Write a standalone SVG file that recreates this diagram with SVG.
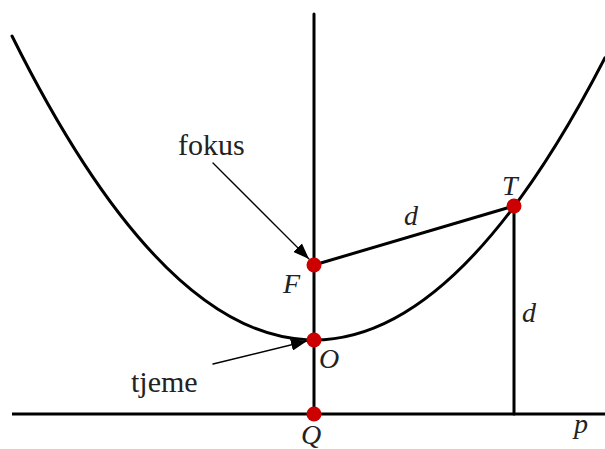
<svg xmlns="http://www.w3.org/2000/svg" width="605" height="449" viewBox="0 0 605 449">
<defs>
<marker id="ahb" viewBox="0 0 16 12" refX="16" refY="6" markerWidth="16" markerHeight="12" markerUnits="userSpaceOnUse" orient="auto">
<path d="M0,0 L16,6 L0,12 z" fill="#000"/>
</marker>
</defs>
<g id="connectors" fill="none" stroke="#000" stroke-width="3" stroke-linecap="round">
<path id="parabola" d="M12,36 Q308.5,632.9 605,57.7"/>
<line id="axis" x1="314" y1="14" x2="314" y2="414"/>
<line id="directrix" x1="12" y1="414" x2="605" y2="414" stroke-linecap="butt"/>
<line id="FT" x1="314" y1="265" x2="514" y2="206"/>
<line id="TP" x1="514" y1="206" x2="514" y2="414"/>
<line id="fokus-arrow" stroke-width="1.3" x1="213" y1="163" x2="309" y2="259" marker-end="url(#ahb)"/>
<line id="tjeme-arrow" stroke-width="1.3" x1="213" y1="364" x2="307" y2="341" marker-end="url(#ahb)"/>
</g>
<g id="F"><circle fill="#cc0000" cx="314" cy="265" r="7.5"/><text x="283" y="293" font-family="Liberation Serif" font-style="italic" font-size="28" fill="#222">F</text></g>
<g id="O"><circle fill="#cc0000" cx="314" cy="340" r="7.5"/><text x="319" y="368" font-family="Liberation Serif" font-style="italic" font-size="28" fill="#222">O</text></g>
<g id="Q"><circle fill="#cc0000" cx="314" cy="414" r="7.5"/><text x="301" y="444" font-family="Liberation Serif" font-style="italic" font-size="28" fill="#222">Q</text></g>
<g id="T"><circle fill="#cc0000" cx="514" cy="206" r="7.5"/><text x="502" y="195" font-family="Liberation Serif" font-style="italic" font-size="28" fill="#222">T</text></g>
<g id="labels">
<text x="404" y="225" font-family="Liberation Serif" font-style="italic" font-size="28" fill="#222">d</text>
<text x="522" y="322" font-family="Liberation Serif" font-style="italic" font-size="28" fill="#222">d</text>
<text x="574" y="433" font-family="Liberation Serif" font-style="italic" font-size="28" fill="#222">p</text>
<text x="178" y="155" font-family="Liberation Serif" font-size="30" fill="#222">fokus</text>
<text x="131" y="392" font-family="Liberation Serif" font-size="30" fill="#222">tjeme</text>
</g>
</svg>
